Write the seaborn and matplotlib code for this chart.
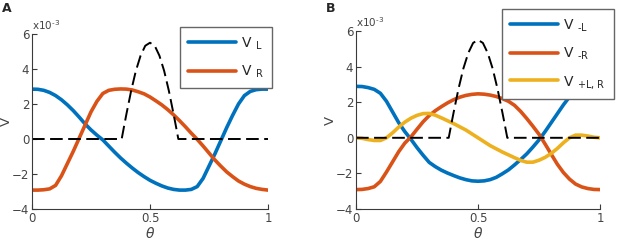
import numpy as np
import pandas as pd
import matplotlib
matplotlib.use('Agg')
import matplotlib.pyplot as plt
from matplotlib.lines import Line2D
import seaborn as sns

# sampling grid of the curves (theta)
theta = np.linspace(0, 1, 41)

# panel A
v_l = [2.85, 2.84, 2.78, 2.66, 2.48, 2.24, 1.95, 1.62, 1.25, 0.86,
       0.52, 0.22, -0.05, -0.40, -0.75, -1.08, -1.38, -1.66, -1.92, -2.15,
       -2.36, -2.53, -2.68, -2.80, -2.88, -2.92, -2.92, -2.88, -2.72, -2.25,
       -1.55, -0.85, -0.10, 0.65, 1.35, 2.00, 2.48, 2.72, 2.82, 2.85, 2.85]
v_r = [-2.92, -2.92, -2.90, -2.85, -2.65, -2.10, -1.40, -0.70, 0.05, 0.80,
       1.55, 2.15, 2.60, 2.78, 2.84, 2.86, 2.85, 2.80, 2.70, 2.58,
       2.40, 2.18, 1.95, 1.68, 1.38, 1.05, 0.70, 0.33, -0.02, -0.40,
       -0.80, -1.20, -1.55, -1.88, -2.15, -2.40, -2.58, -2.72, -2.82, -2.88, -2.92]

# panel B
v_minus_l = [2.89, 2.88, 2.82, 2.72, 2.50, 2.05, 1.45, 0.85, 0.35, -0.08,
             -0.55, -0.98, -1.38, -1.62, -1.82, -1.98, -2.12, -2.25, -2.35, -2.42,
             -2.44, -2.42, -2.35, -2.22, -2.02, -1.80, -1.52, -1.22, -0.90, -0.52,
             -0.12, 0.35, 0.85, 1.35, 1.85, 2.30, 2.62, 2.80, 2.86, 2.89, 2.89]
v_minus_r = [-2.91, -2.90, -2.85, -2.75, -2.45, -1.92, -1.35, -0.78, -0.30, 0.05,
             0.48, 0.90, 1.25, 1.52, 1.75, 1.96, 2.14, 2.28, 2.38, 2.44,
             2.47, 2.45, 2.40, 2.32, 2.20, 2.05, 1.82, 1.48, 1.08, 0.65,
             0.20, -0.35, -0.92, -1.48, -1.95, -2.32, -2.60, -2.76, -2.85, -2.90, -2.91]
v_plus_lr = [0.00, -0.03, -0.10, -0.15, -0.15, 0.00, 0.28, 0.60, 0.88, 1.10,
             1.26, 1.36, 1.37, 1.27, 1.12, 0.96, 0.80, 0.62, 0.44, 0.22,
             0.00, -0.22, -0.44, -0.62, -0.80, -0.96, -1.12, -1.27, -1.37, -1.37,
             -1.26, -1.10, -0.88, -0.60, -0.28, 0.00, 0.15, 0.15, 0.10, 0.03, 0.00]

# stimulus bump (dashed), same in both panels
stim_theta = [0, 0.38, 0.39, 0.40, 0.42, 0.44, 0.46, 0.48, 0.50,
              0.52, 0.54, 0.56, 0.58, 0.60, 0.61, 0.62, 1.0]
stim_v = [0, 0, 0.72, 1.42, 2.75, 3.89, 4.76, 5.33, 5.50,
          5.33, 4.76, 3.89, 2.75, 1.42, 0.72, 0, 0]

labels_a = [r'V $_{\mathregular{L}}$', r'V $_{\mathregular{R}}$']
labels_b = [r'V $_{\text{-L}}$', r'V $_{\text{-R}}$', r'V $_{\text{+L, R}}$']
matlab_colors = ['#0072BD', '#D95319', '#EDB120']

sns.set_style('ticks')
plt.rcParams['font.family'] = ['DejaVu Sans']
plt.rcParams['mathtext.fontset'] = 'dejavusans'
plt.rcParams['xtick.direction'] = 'in'
plt.rcParams['ytick.direction'] = 'in'

axis_gray = '#3a3a3a'
text_gray = '#444444'


def draw_panel(ax, curves, labels, legend_xy, ylabel_x):
    df = pd.concat([pd.DataFrame({'theta': theta, 'V': vals, 'series': lab})
                    for lab, vals in zip(labels, curves)])
    colors = matlab_colors[:len(labels)]
    sns.lineplot(data=df, x='theta', y='V', hue='series', palette=colors,
                 linewidth=2.6, ax=ax, legend=False, sort=False)
    sns.lineplot(x=stim_theta, y=stim_v, color='black', linewidth=1.4,
                 linestyle=(0, (6.5, 2.8)), ax=ax, sort=False)

    ax.set_xlim(0, 1)
    ax.set_ylim(-4, 6)
    ax.set_xticks([0, 0.5, 1])
    ax.set_xticklabels(['0', '0.5', '1'])
    ax.set_yticks([-4, -2, 0, 2, 4, 6])
    ax.tick_params(colors=axis_gray, labelcolor=text_gray, labelsize=8.5,
                   length=3.5, width=0.8, pad=2)
    sns.despine(ax=ax)
    for s in ['left', 'bottom']:
        ax.spines[s].set_color(axis_gray)
        ax.spines[s].set_linewidth(0.8)
    ax.set_xlabel(r'$\theta$', fontsize=10, color=text_gray, labelpad=1)
    ax.set_ylabel('V', fontsize=9.5, color=text_gray)
    ax.yaxis.set_label_coords(ylabel_x, 0.5)
    ax.text(0.0, 1.01, r'x10$^{\text{-3}}$', transform=ax.transAxes,
            fontsize=7.5, color=text_gray, ha='left', va='bottom')

    handles = [Line2D([], [], color=c, linewidth=2.6) for c in colors]
    ax.legend(handles, labels, loc='upper left', bbox_to_anchor=legend_xy,
              bbox_transform=ax.figure.transFigure, fontsize=10,
              frameon=True, fancybox=False, framealpha=1, edgecolor='#666666',
              handlelength=3.4, handletextpad=0.4, labelspacing=0.85,
              borderpad=0.6, borderaxespad=0)


fig = plt.figure(figsize=(6.17, 2.41), dpi=100)
ax_a = fig.add_axes([32 / 617, 32 / 241, 236 / 617, 175 / 241])
ax_b = fig.add_axes([356 / 617, 32 / 241, 244 / 617, 178 / 241])

draw_panel(ax_a, [v_l, v_r], labels_a, (180 / 617, 1 - 27 / 241), -0.08)
draw_panel(ax_b, [v_minus_l, v_minus_r, v_plus_lr], labels_b,
           (502 / 617, 1 - 9 / 241), -0.078)

fig.text(2 / 617, 1 - 2 / 241, 'A', fontsize=9, fontweight='bold', va='top')
fig.text(326 / 617, 1 - 2 / 241, 'B', fontsize=9, fontweight='bold', va='top')

fig.savefig('out.png', dpi=100)
